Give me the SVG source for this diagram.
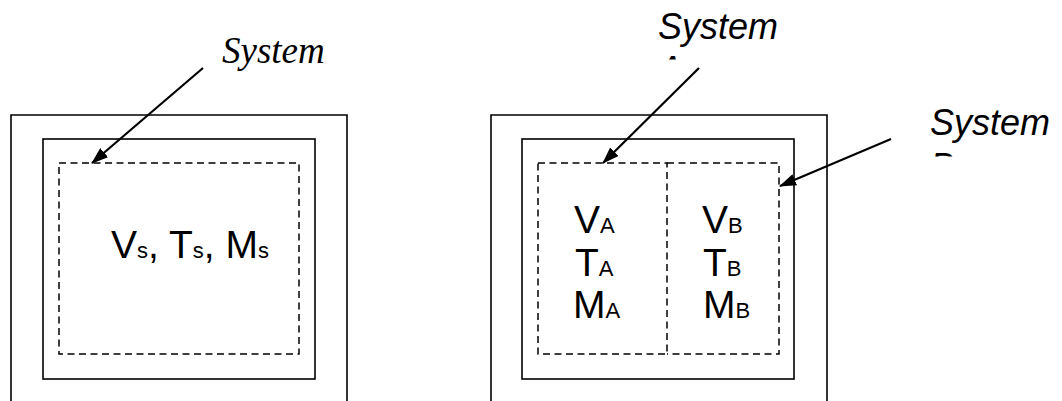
<svg xmlns="http://www.w3.org/2000/svg" width="1062" height="401" viewBox="0 0 1062 401">
<style>
.solid{fill:none;stroke:#000;stroke-width:1.6}
.dash{fill:none;stroke:#000;stroke-width:1.5;stroke-dasharray:7 4.5}
.arr{stroke:#000;stroke-width:2.2;fill:none;marker-end:url(#ah)}
.lbl{font-family:"Liberation Sans",Arial,sans-serif;font-size:39px;fill:#000}
.sub{font-size:22px}
.tsys{font-family:"Liberation Serif","Times New Roman",serif;font-style:italic;font-size:37px;fill:#000}
.asys{font-family:"Liberation Sans",Arial,sans-serif;font-style:italic;font-size:36px;fill:#000}
</style>
<defs>
<marker id="ah" viewBox="0 0 17 12" refX="16" refY="6" markerWidth="17" markerHeight="12" markerUnits="userSpaceOnUse" orient="auto">
<path d="M0,0 L17,6 L0,12 Z" fill="#000"/>
</marker>
<clipPath id="clipA"><rect x="640" y="40" width="60" height="19.5"/></clipPath>
<clipPath id="clipB"><rect x="920" y="140" width="60" height="16.5"/></clipPath>
</defs>
<rect width="1062" height="401" fill="#fff"/>

<g id="left-container">
<path class="solid" d="M11,401 V115 H347 V401"/>
<rect class="solid" x="43" y="139" width="272" height="240"/>
</g>
<g id="left-system">
<rect class="dash" x="59" y="163" width="240" height="191"/>
<text class="lbl" x="111" y="258">V<tspan class="sub">s</tspan>, T<tspan class="sub">s</tspan>, M<tspan class="sub">s</tspan></text>
</g>
<g id="left-label">
<text class="tsys" x="222" y="63">System</text>
</g>

<g id="right-container">
<path class="solid" d="M491,401 V115 H827 V401"/>
<rect class="solid" x="522" y="139" width="272" height="240"/>
</g>
<g id="system-a">
<rect class="dash" x="538" y="163" width="129" height="191"/>
<text class="lbl" x="574" y="233">V<tspan class="sub">A</tspan></text>
<text class="lbl" x="575" y="276">T<tspan class="sub">A</tspan></text>
<text class="lbl" x="573" y="318">M<tspan class="sub">A</tspan></text>
</g>
<g id="system-b">
<path class="dash" d="M667,163 H779 V354 H667"/>
<text class="lbl" x="702" y="233">V<tspan class="sub">B</tspan></text>
<text class="lbl" x="703" y="276">T<tspan class="sub">B</tspan></text>
<text class="lbl" x="703" y="318">M<tspan class="sub">B</tspan></text>
</g>
<g id="label-a">
<text class="asys" x="658" y="39">System</text>
<text class="asys" x="658" y="82" clip-path="url(#clipA)">A</text>
</g>
<g id="label-b">
<text class="asys" x="930" y="135">System</text>
<text class="asys" x="930" y="179" clip-path="url(#clipB)">B</text>
</g>

<g id="connectors">
<line class="arr" x1="203" y1="68" x2="92" y2="163"/>
<line class="arr" x1="699" y1="68" x2="603" y2="163"/>
<line class="arr" x1="891" y1="139" x2="780" y2="186"/>
</g>
</svg>
